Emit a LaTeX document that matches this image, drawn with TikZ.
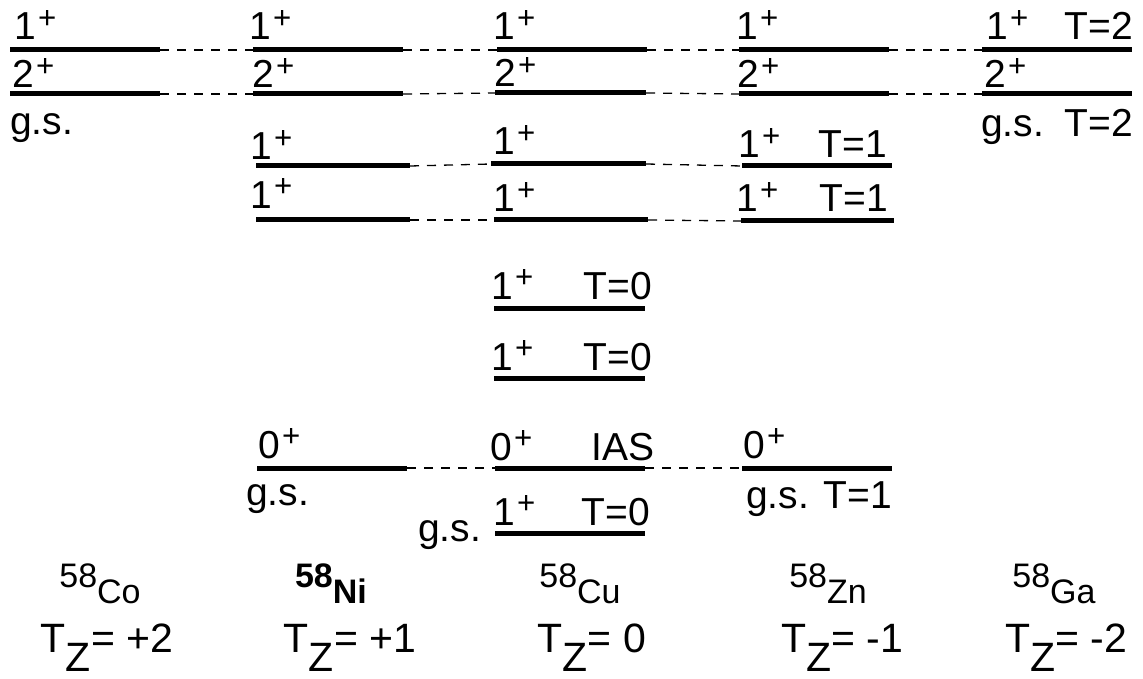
\documentclass[tikz,border=0pt]{standalone}
\usepackage{fontspec}
\setmainfont{Liberation Sans}
\newcommand{\spinp}[1]{#1\kern0.06em\raisebox{0.3em}{\scalebox{0.8}{+}}}
\newcommand{\nucl}[1]{\raisebox{0.45em}{58}#1}
\newcommand{\tzlab}[1]{T\raisebox{-0.48em}{Z}#1}
\tikzset{
  lvl/.style={line width=5pt},
  conn/.style={line width=1.3pt, dash pattern=on 9pt off 8pt},
  lab/.style={inner sep=0pt, font=\fontsize{39}{39}\selectfont},
  nuc/.style={inner sep=0pt, font=\fontsize{34}{34}\selectfont, anchor=base},
  tz/.style={inner sep=0pt, font=\fontsize{41}{41}\selectfont, anchor=base},
}
\begin{document}
\begin{tikzpicture}[x=1pt, y=-1pt]
    \useasboundingbox (0,0) rectangle (1143,679);
    % levels
    \foreach \n/\xa/\xb/\y in {co1/10/160/50, co2/10/160/94,
        ni1/253/403/50, ni2/253/403/94, ni3/256/410/166, ni4/256/410/220, ni5/257/407/468,
        cu1/497/647/50, cu2/495/646/93, cu3/491/646/164, cu4/494/648/220,
        cu5/494/645/308, cu6/494/645/378, cu7/495/645/468, cu8/495/645/533,
        zn1/739/889/50, zn2/739/889/94, zn3/742/892/166, zn4/741/894/221, zn5/742/892/468,
        ga1/982/1132/50, ga2/982/1132/94}{
      \coordinate (\n-l) at (\xa,\y);
      \coordinate (\n-r) at (\xb,\y);
      \draw[lvl] (\n-l) -- (\n-r);
    }
    % dashed links between analog states
    \foreach \a/\b in {co1/ni1, co2/ni2, ni1/cu1, ni2/cu2, ni3/cu3, ni4/cu4, ni5/cu7,
        cu1/zn1, cu2/zn2, cu3/zn3, cu4/zn4, cu7/zn5, zn1/ga1, zn2/ga2}
      \draw[conn] (\a-r) -- (\b-l);
    % spins
    \foreach \n/\j/\x/\y in {co1/1/14/40, co2/2/12/88,
        ni1/1/249/40, ni2/2/252/88, ni3/1/250/160, ni4/1/250/208, ni5/0/258/458,
        cu1/1/493/40, cu2/2/494/87, cu3/1/493/155, cu4/1/493/212,
        cu5/1/491/299, cu6/1/491/370, cu7/0/490/460, cu8/1/493/525,
        zn1/1/736/40, zn2/2/737/88, zn3/1/738/158, zn4/1/736/212, zn5/0/743/458,
        ga1/1/986/40, ga2/2/984/88}
      \node[lab, anchor=base west] (\n-j) at (\x,\y) {\spinp{\j}};
    % isospin labels
    \node[lab, anchor=base east] (cu5-t) at (652,299) {T=0};
    \node[lab, anchor=base east] (cu6-t) at (652,370) {T=0};
    \node[lab, anchor=base east] (cu7-t) at (655,460) {IAS};
    \node[lab, anchor=base east] (cu8-t) at (650,525) {T=0};
    \node[lab, anchor=base east] (zn3-t) at (887,158) {T=1};
    \node[lab, anchor=base east] (zn4-t) at (888,212) {T=1};
    \node[lab, anchor=base east] (ga1-t) at (1133,40) {T=2};
    \node[lab, anchor=base east] (ga-t) at (1133,137) {T=2};
    % ground states
    \node[lab, anchor=base west] (co-gs) at (10,135) {g.s.};
    \node[lab, anchor=base west] (ni-gs) at (246,505) {g.s.};
    \node[lab, anchor=base west] (cu-gs) at (418,541) {g.s.};
    \node[lab, anchor=base west] (zn-gs) at (746,508) {g.s. T=1};
    \node[lab, anchor=base west] (ga-gs) at (981,137) {g.s.};
    % nuclei
    \node[nuc] (co-nuc) at (100,603) {\nucl{Co}};
    \node[nuc] (ni-nuc) at (331,603) {\bfseries\nucl{Ni}};
    \node[nuc] (cu-nuc) at (580,603) {\nucl{Cu}};
    \node[nuc] (zn-nuc) at (828,603) {\nucl{Zn}};
    \node[nuc] (ga-nuc) at (1054,603) {\nucl{Ga}};
    \node[tz] (co-tz) at (107,652) {\tzlab{= +2}};
    \node[tz] (ni-tz) at (350,652) {\tzlab{= +1}};
    \node[tz] (cu-tz) at (592,652) {\tzlab{= 0}};
    \node[tz] (zn-tz) at (842,652) {\tzlab{= -1}};
    \node[tz] (ga-tz) at (1066,652) {\tzlab{= -2}};
\end{tikzpicture}
\end{document}
